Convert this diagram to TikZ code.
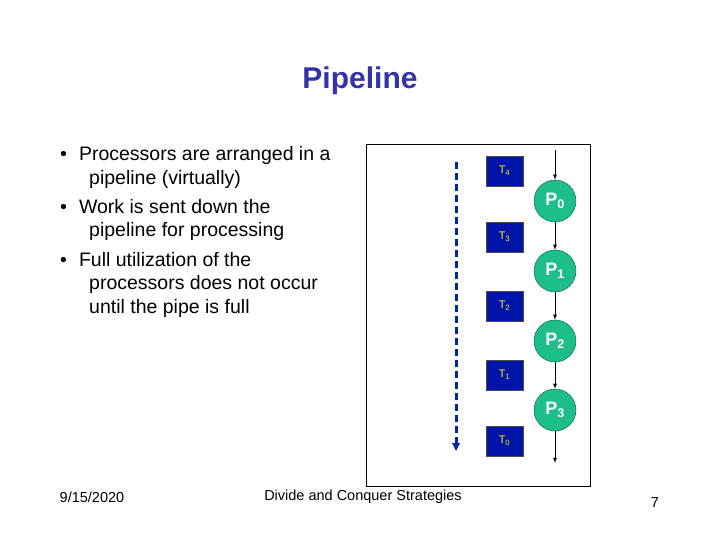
\documentclass[tikz,border=0pt]{standalone}
\usepackage{fontspec}
\setmainfont{Liberation Sans}
\definecolor{tblue}{RGB}{0,20,170}
\definecolor{dblue}{RGB}{0,40,170}
\definecolor{pgreen}{RGB}{30,190,140}
\definecolor{pdark}{RGB}{0,90,60}
\definecolor{ttl}{RGB}{51,51,170}
\begin{document}
\begin{tikzpicture}[x=1pt,y=-1pt,
  tbox/.style={draw=black!70,fill=tblue,minimum width=37pt,minimum height=30pt,inner sep=0pt,text=yellow,font=\fontsize{11}{12}\selectfont},
  proc/.style={circle,draw=pdark,fill=pgreen,minimum size=42pt,inner sep=0pt,text=white,font=\fontsize{18}{20}\selectfont\bfseries},
  btxt/.style={anchor=west,align=left,font=\fontsize{19.5}{24}\selectfont,inner sep=0pt},
  ftxt/.style={font=\fontsize{14.5}{16}\selectfont},
  flow/.style={-latex,thick}]
\useasboundingbox (0,0) rectangle (720,540);
\node[text=ttl,font=\fontsize{30}{32}\selectfont\bfseries] (title) at (360,81) {Pipeline};
\draw (366,144) rectangle (590,486);
\node[btxt] (b1) at (60,155) {•\hspace{12pt}Processors are arranged in a};
\node[btxt] (b1b) at (89,179) {pipeline (virtually)};
\node[btxt] (b2) at (60,207) {•\hspace{12pt}Work is sent down the};
\node[btxt] (b2b) at (89,231) {pipeline for processing};
\node[btxt] (b3) at (60,260) {•\hspace{12pt}Full utilization of the};
\node[btxt] (b3b) at (89,284) {processors does not occur};
\node[btxt] (b3c) at (89,308) {until the pipe is full};
\node[tbox] (t4) at (504.5,171) {T\textsubscript{4}};
\node[tbox] (t3) at (504.5,237) {T\textsubscript{3}};
\node[tbox] (t2) at (504.5,306) {T\textsubscript{2}};
\node[tbox] (t1) at (504.5,375) {T\textsubscript{1}};
\node[tbox] (t0) at (504.5,441) {T\textsubscript{0}};
\node[proc] (p0) at (555,201) {P\textsubscript{0}};
\node[proc] (p1) at (555,271) {P\textsubscript{1}};
\node[proc] (p2) at (555,341) {P\textsubscript{2}};
\node[proc] (p3) at (555,410) {P\textsubscript{3}};
\coordinate (in) at (555,150);
\coordinate (out) at (555,463);
\draw[flow] (in) -- (p0);
\draw[flow] (p0) -- (p1);
\draw[flow] (p1) -- (p2);
\draw[flow] (p2) -- (p3);
\draw[flow] (p3) -- (out);
\coordinate (ds) at (456,162);
\coordinate (dm) at (456,443);
\coordinate (de) at (456,451);
\draw[line width=3pt,dash pattern=on 7pt off 4pt,dblue] (ds) -- (dm);
\fill[dblue] (452,443) -- (460,443) -- (de) -- cycle;
\node[ftxt] (date) at (92,497) {9/15/2020};
\node[ftxt] (foot) at (363,497) {Divide and Conquer Strategies};
\node[ftxt] (num) at (655,503) {7};
\end{tikzpicture}
\end{document}
